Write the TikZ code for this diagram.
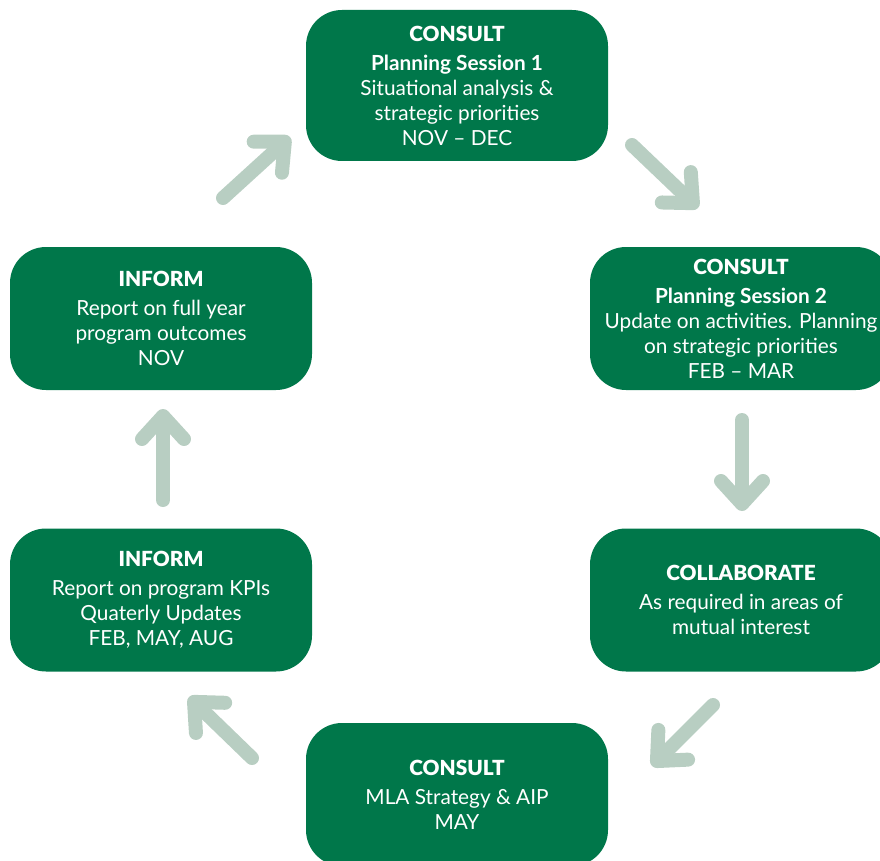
\documentclass[tikz,border=0pt]{standalone}
\usepackage{fontspec}
\setmainfont{Lato}
\newfontfamily\headfont{Lato Black}
\usetikzlibrary{positioning,arrows.meta}

\definecolor{stagegreen}{RGB}{0,119,74}
\definecolor{cyclesage}{RGB}{184,206,194}

\tikzset{
  stagebox/.style={fill=stagegreen, text=white, rounded corners=36pt,
    minimum width=302pt, minimum height=143pt, align=center,
    inner sep=0pt, font=\fontsize{20.8}{25}\selectfont},
  cyclearrow/.style={cyclesage, line width=14pt, line cap=round,
    -{Straight Barb[round, length=23pt, width=42pt]}},
}
\newcommand{\stagehead}[1]{{\headfont #1}\\[4pt]}

\begin{document}
\begin{tikzpicture}[x=1pt, y=-1pt]
        \useasboundingbox (0,0) rectangle (880,861);

        % the six stages of the cycle
        \node[stagebox, minimum height=151pt] (consultA) at (457,85.5)
            {\stagehead{CONSULT}\textbf{Planning Session 1}\\
             Situational analysis \&\\strategic priorities\\NOV -- DEC};
        \node[stagebox] (consultB) at (741,318.5)
            {\stagehead{CONSULT}\textbf{Planning Session 2}\\
             Update on activities. Planning\\on strategic priorities\\FEB -- MAR};
        \node[stagebox] (collab) at (741,600)
            {\stagehead{COLLABORATE}As required in areas of\\mutual interest};
        \node[stagebox] (consultC) at (457,794.5)
            {\stagehead{CONSULT}MLA Strategy \& AIP\\MAY};
        \node[stagebox] (informB) at (161,600)
            {\stagehead{INFORM}Report on program KPIs\\Quaterly Updates\\FEB, MAY, AUG};
        \node[stagebox] (informA) at (161,318.5)
            {\stagehead{INFORM}Report on full year\\program outcomes\\NOV};

        % arrow ends in the gaps
        \coordinate (informA-out) at (223,198);
        \coordinate (consultA-in) at (290,137);
        \coordinate (consultA-out) at (632,145);
        \coordinate (consultB-in) at (698,208);
        \coordinate (consultB-out) at (742,420);
        \coordinate (collab-in) at (742,511);
        \coordinate (collab-out) at (713,705);
        \coordinate (consultC-in) at (652,766);
        \coordinate (consultC-out) at (252,758);
        \coordinate (informB-in) at (189,697);
        \coordinate (informB-out) at (163,500);
        \coordinate (informA-in) at (163,409);

        \draw[cyclearrow] (informA-out) -- (consultA-in);
        \draw[cyclearrow] (consultA-out) -- (consultB-in);
        \draw[cyclearrow] (consultB-out) -- (collab-in);
        \draw[cyclearrow] (collab-out) -- (consultC-in);
        \draw[cyclearrow] (consultC-out) -- (informB-in);
        \draw[cyclearrow] (informB-out) -- (informA-in);
\end{tikzpicture}
\end{document}
